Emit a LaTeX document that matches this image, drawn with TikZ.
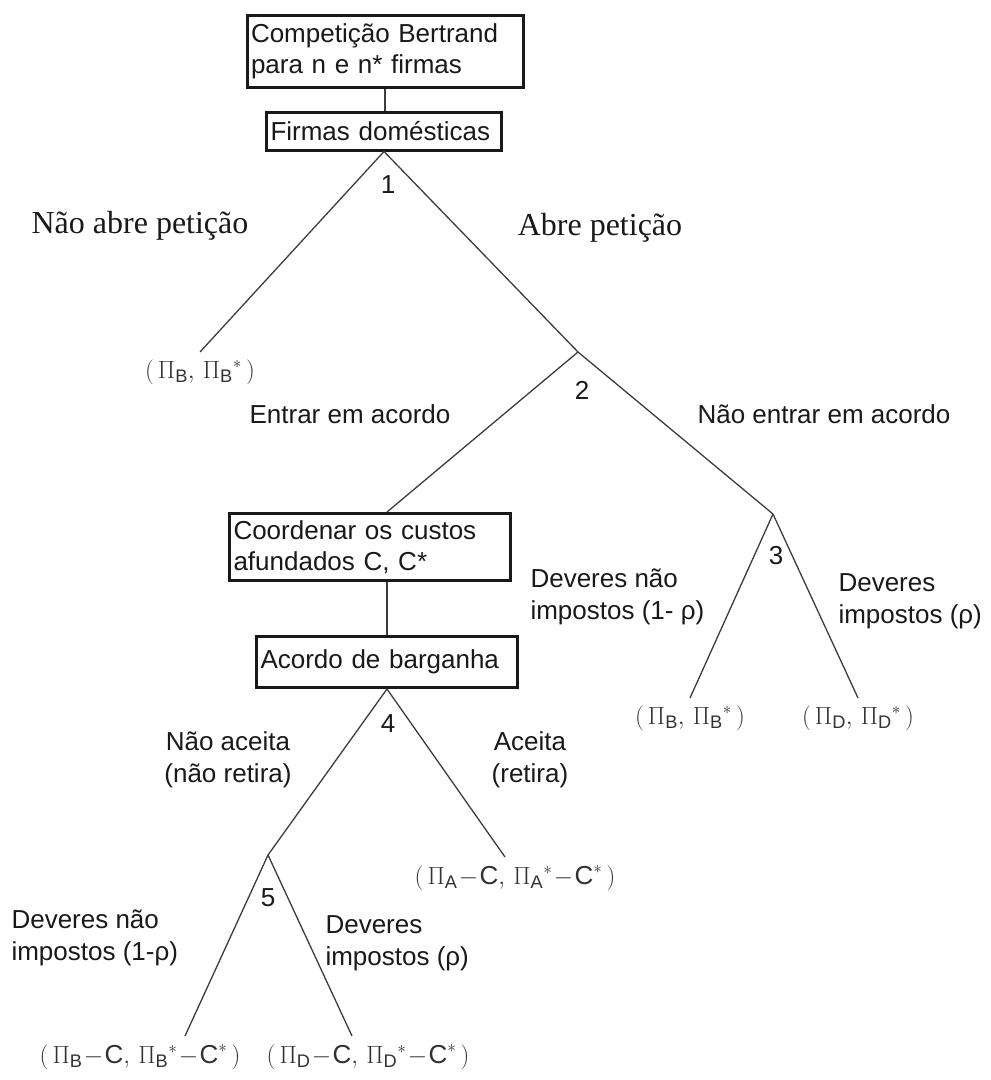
\documentclass[tikz,border=0pt]{standalone}
\usepackage{amsmath}
\usepackage{fontspec}
\setmainfont{Liberation Sans}
\newfontfamily\choicefont{Liberation Serif}
\usetikzlibrary{positioning, calc}
\definecolor{InkText}{RGB}{25, 25, 25}
\definecolor{BranchGray}{RGB}{60, 60, 60}
\definecolor{PayoffGray}{RGB}{50, 50, 50}

\begin{document}
\begin{tikzpicture}[x=1pt, y=-1pt,
    gbox/.style={draw=InkText, line width=3pt, fill=white, text=InkText,
      font=\fontsize{26}{31}\selectfont, align=left, text width=#1,
      inner xsep=4pt, inner ysep=3pt},
    branch/.style={draw=BranchGray, line width=1.3pt},
    movelbl/.style={font=\fontsize{26}{32}\selectfont, text=InkText, align=left},
    numlbl/.style={font=\fontsize{26}{30}\selectfont, text=InkText},
    payoff/.style={font=\fontsize{26}{30}\selectfont, text=PayoffGray, inner sep=1pt},
    choice/.style={font=\choicefont\fontsize{32}{38}\selectfont, text=InkText}]
  \useasboundingbox (0,0) rectangle (991,1080);

  % Root and first player
  \node[gbox=268pt, minimum height=72pt] (comp) at (385, 51) {Competição Bertrand\\para n e n* firmas};
  \node[gbox=227pt, minimum height=38pt] (dom) at (384, 131) {Firmas domésticas};
  \draw[branch] (comp.south) -- (comp.south |- dom.north);

  % Decision points and branch ends
  \coordinate (n1) at (dom.south);
  \coordinate (n2) at (578, 352);
  \coordinate (n3) at (773, 514);
  \coordinate (n5) at (268, 855);
  \coordinate (t1) at (200, 352);
  \coordinate (t3a) at (690, 698);
  \coordinate (t3b) at (858, 698);
  \coordinate (t4b) at (505, 857);
  \coordinate (t5a) at (185, 1036);
  \coordinate (t5b) at (352, 1036);

  % Bargaining boxes
  \node[gbox=273pt, minimum height=67pt] (coord) at (370, 547) {Coordenar os custos\\afundados C, C*};
  \node[gbox=253pt, minimum height=51pt] (acordo) at (387, 662) {Acordo de barganha};
  \coordinate (n4) at (acordo.south);

  % Branches
  \draw[branch] (n1) -- (t1);
  \draw[branch] (n1) -- (n2);
  \draw[branch] (n2) -- (acordo.north |- coord.north);
  \draw[branch] (n2) -- (n3);
  \draw[branch] (n3) -- (t3a);
  \draw[branch] (n3) -- (t3b);
  \draw[branch] (coord.south -| acordo.north) -- (acordo.north);
  \draw[branch] (n4) -- (n5);
  \draw[branch] (n4) -- (t4b);
  \draw[branch] (n5) -- (t5a);
  \draw[branch] (n5) -- (t5b);

  % Player numbers
  \node[numlbl] (k1) at (388, 185) {1};
  \node[numlbl] (k2) at (582, 390) {2};
  \node[numlbl] (k3) at (776, 556) {3};
  \node[numlbl] (k4) at (388, 724) {4};
  \node[numlbl] (k5) at (268, 898) {5};

  % Move labels
  \node[choice] (naoabre) at (140, 226) {Não abre petição};
  \node[choice] (abre) at (600, 228) {Abre petição};
  \node[movelbl] (entrar) at (350, 414) {Entrar em acordo};
  \node[movelbl] (naoentrar) at (824, 414) {Não entrar em acordo};
  \node[movelbl, anchor=west] (dnao3) at (527, 597) {Deveres não\\impostos (1- ρ)};
  \node[movelbl, anchor=west] (dimp3) at (835, 601) {Deveres\\impostos (ρ)};
  \node[movelbl, align=center] (naoaceita) at (228, 760) {Não aceita\\(não retira)};
  \node[movelbl, align=center] (aceita) at (530, 760) {Aceita\\(retira)};
  \node[movelbl, anchor=west] (dnao5) at (8, 938) {Deveres não\\impostos (1-ρ)};
  \node[movelbl, anchor=west] (dimp5) at (322, 943) {Deveres\\impostos (ρ)};

  % Payoffs
  \node[payoff, below=7pt of t1] (p1) {$(\,\Pi_{\text{B}},\,{\Pi_{\text{B}}}^{*}\,)$};
  \node[payoff, below=7pt of t3a] (p3a) {$(\,\Pi_{\text{B}},\,{\Pi_{\text{B}}}^{*}\,)$};
  \node[payoff, below=7pt of t3b] (p3b) {$(\,\Pi_{\text{D}},\,{\Pi_{\text{D}}}^{*}\,)$};
  \node[payoff, below=7pt of t4b, xshift=10pt] (p4) {$(\,\Pi_{\text{A}}\!-\!\text{C},\,{\Pi_{\text{A}}}^{*}\!-\!\text{C}^{*}\,)$};
  \node[payoff, below=7pt of t5a, xshift=-45pt] (p5a) {$(\,\Pi_{\text{B}}\!-\!\text{C},\,{\Pi_{\text{B}}}^{*}\!-\!\text{C}^{*}\,)$};
  \node[payoff, below=7pt of t5b, xshift=16pt] (p5b) {$(\,\Pi_{\text{D}}\!-\!\text{C},\,{\Pi_{\text{D}}}^{*}\!-\!\text{C}^{*}\,)$};
\end{tikzpicture}
\end{document}
